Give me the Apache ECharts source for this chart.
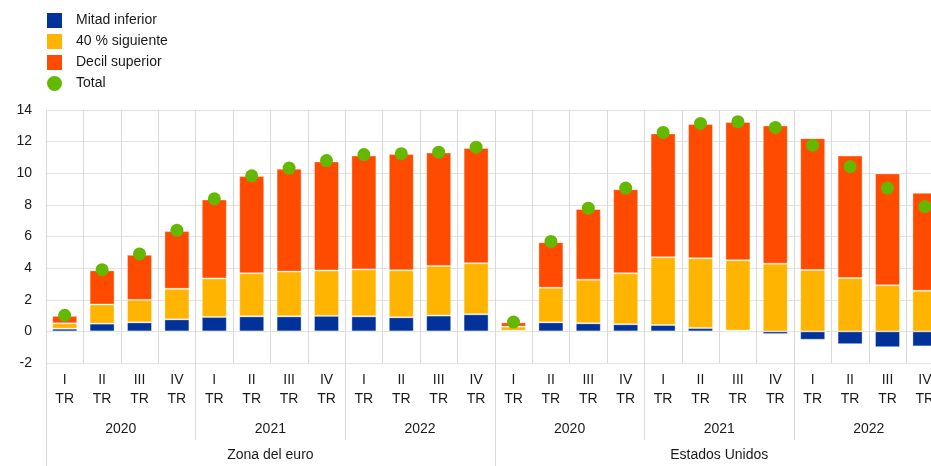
<!DOCTYPE html>
<html>
<head>
<meta charset="utf-8">
<script src="https://cdn.jsdelivr.net/npm/echarts@6/dist/echarts.min.js"></script>
<style>
  html, body { margin: 0; padding: 0; background: #fff; overflow: hidden; }
  #chart { width: 931px; height: 466px; }
</style>
</head>
<body>
<div id="chart"></div>
<script>
// trimestres, años y zonas
const quarters = ['I\nTR', 'II\nTR', 'III\nTR', 'IV\nTR',
  'I\nTR', 'II\nTR', 'III\nTR', 'IV\nTR',
  'I\nTR', 'II\nTR', 'III\nTR', 'IV\nTR',
  'I\nTR', 'II\nTR', 'III\nTR', 'IV\nTR',
  'I\nTR', 'II\nTR', 'III\nTR', 'IV\nTR',
  'I\nTR', 'II\nTR', 'III\nTR', 'IV\nTR']
const years = ['2020', '2021', '2022', '2020', '2021', '2022']
const regions = ['Zona del euro', 'Estados Unidos']

// series (zona del euro, luego Estados Unidos)
const mitadInferior = [0.17, 0.49, 0.57, 0.76, 0.91, 0.95, 0.95, 0.98, 0.95, 0.89, 1.00, 1.08,
  0.04, 0.57, 0.51, 0.45, 0.40, 0.21, 0.05, -0.17, -0.53, -0.81, -1.00, -0.95]
const cuarentaSiguiente = [0.34, 1.21, 1.42, 1.93, 2.44, 2.72, 2.83, 2.87, 2.97, 2.97, 3.14, 3.23,
  0.26, 2.19, 2.76, 3.22, 4.29, 4.41, 4.45, 4.28, 3.88, 3.37, 2.91, 2.57]
const decilSuperior = [0.47, 2.16, 2.85, 3.65, 4.99, 6.15, 6.51, 6.90, 7.20, 7.36, 7.17, 7.29,
  0.27, 2.88, 4.47, 5.32, 7.83, 8.49, 8.74, 8.74, 8.34, 7.75, 7.08, 6.19]
const total = [1.02, 3.90, 4.90, 6.39, 8.38, 9.84, 10.33, 10.80, 11.18, 11.24, 11.33, 11.65,
  0.59, 5.69, 7.79, 9.06, 12.58, 13.15, 13.26, 12.90, 11.77, 10.42, 9.06, 7.89]

const font = 'Liberation Sans, Arial, sans-serif'
const textColor = '#1a1a1a'
const gridColor = '#e2e2e2'
const sepColor = '#d9d9d9'
const barBorder = 'rgba(255,255,255,0.35)'

const myChart = echarts.init(document.getElementById('chart'))
myChart.setOption({
  animation: false,
  textStyle: { fontFamily: font },
  legend: {
    orient: 'vertical',
    left: 42,
    top: 8,
    itemWidth: 15,
    itemHeight: 15,
    itemGap: 6,
    itemStyle: { borderWidth: 0 },
    textStyle: { fontSize: 14, color: textColor, fontFamily: font, padding: [0, 0, 0, 9] },
    data: [
      { name: 'Mitad inferior', icon: 'rect' },
      { name: '40 % siguiente', icon: 'rect' },
      { name: 'Decil superior', icon: 'rect' },
      { name: 'Total', icon: 'circle' }
    ]
  },
  grid: {
    left: 46,
    top: 110,
    width: 897.6, // el gráfico original está recortado a la derecha
    height: 253,
    outerBoundsMode: 'none',
    containLabel: false
  },
  yAxis: {
    type: 'value',
    min: -2,
    max: 14,
    interval: 2,
    axisLine: { show: false },
    axisTick: { show: false },
    axisLabel: { fontSize: 14, color: textColor, margin: 14, fontFamily: font },
    splitLine: { lineStyle: { color: gridColor, width: 1 } }
  },
  xAxis: [
    {
      type: 'category',
      position: 'bottom',
      data: quarters,
      axisLine: { show: false, onZero: false },
      axisTick: { show: false },
      axisLabel: { interval: 0, fontSize: 14, color: textColor, lineHeight: 19, margin: 8, fontFamily: font, hideOverlap: false },
      splitLine: { show: true, interval: 0, lineStyle: { color: sepColor } }
    },
    {
      type: 'category',
      position: 'bottom',
      data: years,
      axisLine: { show: false, onZero: false },
      axisTick: { show: true, length: 77, interval: 0, lineStyle: { color: sepColor } },
      axisLabel: { interval: 0, fontSize: 14, color: textColor, lineHeight: 19, margin: 57, fontFamily: font },
      splitLine: { show: false }
    },
    {
      type: 'category',
      position: 'bottom',
      data: regions,
      axisLine: { show: false, onZero: false },
      axisTick: { show: true, length: 103, interval: 0, lineStyle: { color: sepColor } },
      axisLabel: { interval: 0, fontSize: 14, color: textColor, lineHeight: 19, margin: 83, fontFamily: font },
      splitLine: { show: false }
    }
  ],
  series: [
    {
      name: 'Mitad inferior',
      type: 'bar',
      stack: 'total',
      barWidth: 25,
      data: mitadInferior,
      itemStyle: { color: '#003299', borderColor: barBorder, borderWidth: 1 }
    },
    {
      name: '40 % siguiente',
      type: 'bar',
      stack: 'total',
      barWidth: 25,
      data: cuarentaSiguiente,
      itemStyle: { color: '#ffb400', borderColor: barBorder, borderWidth: 1 }
    },
    {
      name: 'Decil superior',
      type: 'bar',
      stack: 'total',
      barWidth: 25,
      data: decilSuperior,
      itemStyle: { color: '#ff4b00', borderColor: barBorder, borderWidth: 1 }
    },
    {
      name: 'Total',
      type: 'scatter',
      symbolSize: 13,
      data: total,
      itemStyle: { color: '#65b800', opacity: 1 },
      z: 5
    }
  ]
})
</script>
</body>
</html>
